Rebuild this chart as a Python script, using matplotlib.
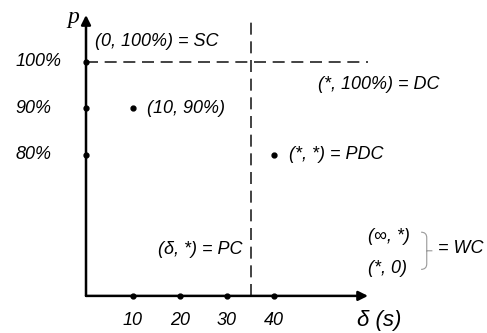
import matplotlib
matplotlib.use('Agg')
import matplotlib.pyplot as plt
from matplotlib.path import Path
from matplotlib.patches import PathPatch

# schematic values
x_ticks = [10, 20, 30, 40]
y_ticks = [80, 90, 100]
y_tick_labels = ['80%', '90%', '100%']
sample_point = (10, 90)
pdc_point = (40, 80)
delta_limit = 35      # vertical dashed line
p_full = 100          # horizontal dashed line
y_origin = 49.7       # where the x axis sits (schematic, not to scale)
x_end = 60
y_end = 110.1

font = 'Liberation Sans'
fs = 13

fig = plt.figure(figsize=(4.87, 3.33), dpi=100)
ax = fig.add_axes([0, 0, 1, 1])
ax.set_xlim(-18.30, 85.32)
ax.set_ylim(41.72, 113.33)
ax.axis('off')

# axes with arrows
arrow = dict(arrowstyle='-|>', lw=1.8, color='black', mutation_scale=14,
             shrinkA=0, shrinkB=0)
ax.annotate('', xy=(x_end, y_origin), xytext=(0, y_origin), arrowprops=arrow)
ax.annotate('', xy=(0, y_end), xytext=(0, y_origin), arrowprops=arrow)

# dashed guides
ax.plot([0, x_end], [p_full, p_full], color='#222222', lw=1.2, dashes=(7.2, 4.0))
ax.plot([delta_limit, delta_limit], [y_origin, 108.6], color='#222222', lw=1.2,
        dashes=(7.2, 4.0))

# tick dots
ax.plot(x_ticks, [y_origin] * len(x_ticks), 'o', color='black', ms=3.5)
ax.plot([0] * len(y_ticks), y_ticks, 'o', color='black', ms=3.5)
ax.plot(*sample_point, 'o', color='black', ms=3.5)
ax.plot(*pdc_point, 'o', color='black', ms=3.5)

tk = dict(fontname=font, fontsize=fs, style='italic', va='center')
for x in x_ticks:
    ax.text(x, y_origin - 5.3, str(x), ha='center', **tk)
for y, lab in zip(y_ticks, y_tick_labels):
    ax.text(-15.1, y, lab, ha='left', **tk)

# axis labels
ax.text(-2.7, 109.6, 'p', fontname='Liberation Serif', fontsize=17, style='italic',
        ha='center', va='center')
ax.text(57.7, y_origin - 5.3, 'δ (s)', fontname=font, fontsize=16, style='italic',
        ha='left', va='center')

# annotations
ax.text(1.9, 104.3, '(0, 100%) = SC', ha='left', **tk)
ax.text(sample_point[0] + 3.0, sample_point[1], '(10, 90%)', ha='left', **tk)
ax.text(49.3, 95.1, '(*, 100%) = DC', ha='left', **tk)
ax.text(pdc_point[0] + 3.2, pdc_point[1], '(*, *) = PDC', ha='left', **tk)
ax.text(33.3, 59.6, '(δ, *) = PC', ha='right', **tk)
ax.text(60.0, 62.4, '(∞, *)', ha='left', **tk)
ax.text(60.0, 55.5, '(*, 0)', ha='left', **tk)
ax.text(74.9, 59.8, '= WC', ha='left', **tk)

# curly brace for WC
bx, by_top, by_bot, by_mid = 71.3, 63.4, 55.4, 59.4
w = 1.2
verts = [(bx, by_top), (bx + w, by_top), (bx + w, by_top - 1.2), (bx + w, by_mid + 1.2),
         (bx + w, by_mid + 0.2), (bx + w, by_mid), (bx + 2 * w, by_mid),
         (bx + w, by_mid), (bx + w, by_mid - 0.2), (bx + w, by_mid - 1.2),
         (bx + w, by_bot + 1.2), (bx + w, by_bot), (bx, by_bot)]
codes = [Path.MOVETO, Path.CURVE3, Path.CURVE3, Path.LINETO,
         Path.CURVE3, Path.CURVE3, Path.LINETO,
         Path.MOVETO, Path.CURVE3, Path.CURVE3,
         Path.LINETO, Path.CURVE3, Path.CURVE3]
ax.add_patch(PathPatch(Path(verts, codes), fill=False, edgecolor='#999999', lw=0.8))

fig.savefig('out.png', dpi=100)
